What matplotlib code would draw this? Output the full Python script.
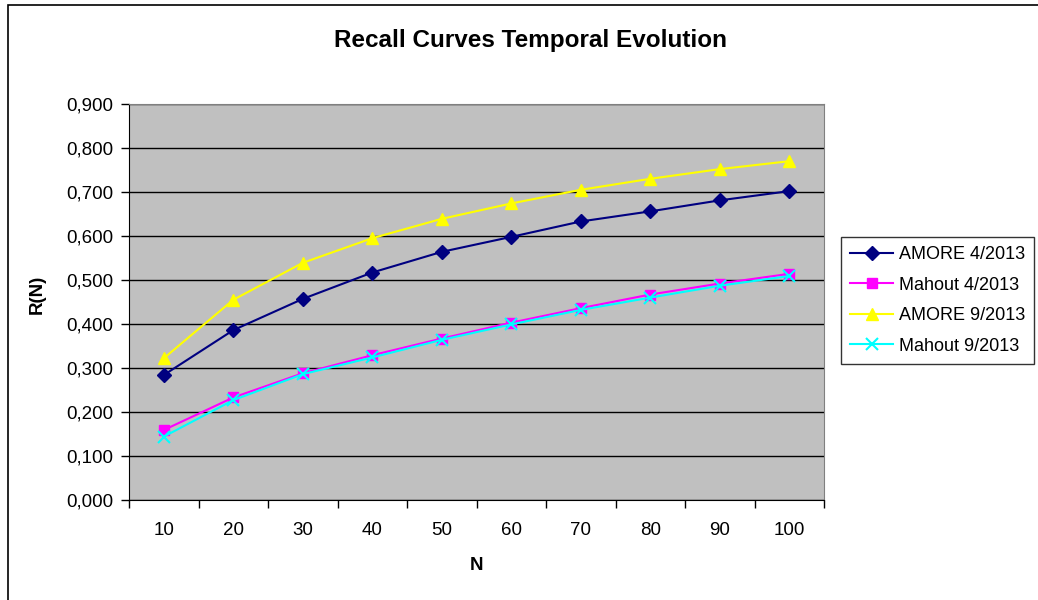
import matplotlib
matplotlib.use("Agg")
import matplotlib.pyplot as plt
from matplotlib.patches import Rectangle
from matplotlib.ticker import FuncFormatter, FixedLocator
import numpy as np

plt.rcParams['font.family'] = ['Liberation Sans', 'DejaVu Sans']

# N values (categories) and recall for each run
n_values = [10, 20, 30, 40, 50, 60, 70, 80, 90, 100]
amore_apr = [0.284, 0.386, 0.457, 0.517, 0.564, 0.598, 0.633, 0.656, 0.681, 0.702]
mahout_apr = [0.159, 0.233, 0.288, 0.329, 0.367, 0.403, 0.436, 0.467, 0.492, 0.514]
amore_sep = [0.322, 0.455, 0.539, 0.595, 0.639, 0.674, 0.705, 0.730, 0.752, 0.770]
mahout_sep = [0.144, 0.227, 0.286, 0.324, 0.364, 0.399, 0.432, 0.460, 0.487, 0.509]

W, H = 1038, 600
fig = plt.figure(figsize=(W / 100, H / 100), dpi=100)

# chart border (the bottom and right edges fall outside the canvas)
fig.patches.append(Rectangle((7.5 / W, -0.05), 1.2, 1 - 4.5 / H + 0.05,
                             transform=fig.transFigure, fill=False,
                             edgecolor='black', linewidth=1.2))

ax = fig.add_axes([129 / W, 100 / H, 695 / W, 396 / H])
ax.set_facecolor('#c0c0c0')

x = np.arange(1, len(n_values) + 1)
ax.plot(x, amore_apr, color='#000080', marker='D', markersize=7, linewidth=1.5,
        label='AMORE 4/2013', zorder=3)
ax.plot(x, mahout_apr, color='#ff00ff', marker='s', markersize=7, linewidth=1.5,
        label='Mahout 4/2013', zorder=3)
ax.plot(x, amore_sep, color='#ffff00', marker='^', markersize=9, linewidth=1.5,
        label='AMORE 9/2013', zorder=3)
ax.plot(x, mahout_sep, color='#00ffff', marker='x', markersize=8, linewidth=1.5,
        markeredgewidth=1.5, label='Mahout 9/2013', zorder=3)

ax.set_xlim(0.5, len(n_values) + 0.5)
ax.set_ylim(0, 0.9)
ax.set_yticks(np.arange(0, 0.901, 0.1))
ax.yaxis.set_major_formatter(FuncFormatter(lambda v, p: f'{v:.3f}'.replace('.', ',')))
ax.grid(axis='y', color='black', linewidth=1)
ax.set_axisbelow(True)

# category ticks sit between the labels
ax.xaxis.set_major_locator(FixedLocator(np.arange(0.5, len(n_values) + 1)))
ax.xaxis.set_minor_locator(FixedLocator(x))
ax.xaxis.set_major_formatter(plt.NullFormatter())
ax.set_xticks(x, [str(n) for n in n_values], minor=True)
ax.tick_params(axis='x', which='minor', length=0, pad=16, labelsize=13.5)
ax.tick_params(axis='x', which='major', length=6, width=1, direction='out')
ax.tick_params(axis='y', length=6, width=1, direction='out', pad=5, labelsize=13.5)

for side in ['top', 'right']:
    ax.spines[side].set_color('#808080')
for side in ['left', 'bottom']:
    ax.spines[side].set_color('black')

ax.set_xlabel('N', fontsize=13.5, fontweight='bold')
ax.set_ylabel('R(N)', fontsize=13.5, fontweight='bold')
ax.xaxis.set_label_coords(0.5, -57 / 396)
ax.yaxis.set_label_coords(-83 / 695, 0.52)

fig.text(531 / W, 1 - 41 / H, 'Recall Curves Temporal Evolution',
         ha='center', va='center', fontsize=17.5, fontweight='bold')

leg = fig.legend(loc='upper left', bbox_to_anchor=(841 / W, 1 - 237 / H),
                 fontsize=13, frameon=True, fancybox=False, handlelength=2.4,
                 borderpad=0.5, labelspacing=0.75, handletextpad=0.3,
                 borderaxespad=0)
leg.get_frame().set_edgecolor('black')
leg.get_frame().set_linewidth(1)

fig.savefig('out.png', dpi=100)
